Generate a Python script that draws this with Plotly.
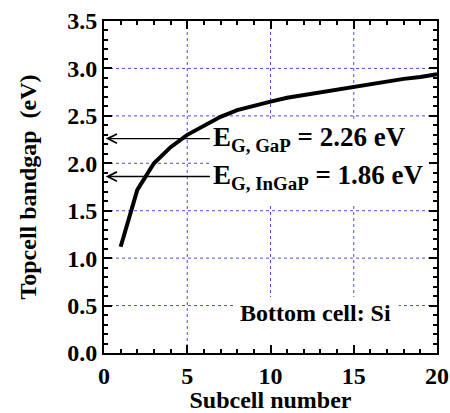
import plotly.graph_objects as go

subcells = list(range(1, 21))
bandgap = [1.12, 1.72, 2.00, 2.17, 2.30, 2.40, 2.49, 2.56, 2.61, 2.65,
           2.69, 2.72, 2.75, 2.78, 2.81, 2.84, 2.86, 2.89, 2.91, 2.94]
ref_labels = ["E<sub>G, GaP</sub> = 2.26 eV", "E<sub>G, InGaP</sub> = 1.86 eV"]
ref_values = [2.26, 1.86]
x_ticks = [0, 5, 10, 15, 20]
y_ticks = [0.0, 0.5, 1.0, 1.5, 2.0, 2.5, 3.0, 3.5]

FONT = "Liberation Serif"
GRID = "#4a4aee"
fig = go.Figure()
fig.add_trace(go.Scatter(x=subcells, y=bandgap, mode="lines",
                         line=dict(color="black", width=4), showlegend=False))

# dotted gridlines at the interior ticks
for t in x_ticks[1:-1]:
    fig.add_shape(type="line", xref="x", yref="y", x0=t, x1=t, y0=0, y1=3.5,
                  line=dict(color=GRID, width=1, dash="dot"), layer="below")
for t in y_ticks[1:-1]:
    fig.add_shape(type="line", xref="x", yref="y", x0=0, x1=20, y0=t, y1=t,
                  line=dict(color=GRID, width=1, dash="dot"), layer="below")

# white boxes hiding gridlines behind the texts
fig.add_shape(type="rect", xref="x", yref="y", x0=6.45, x1=19.9, y0=1.56, y1=2.47,
              fillcolor="white", line=dict(width=0), layer="below")
fig.add_shape(type="rect", xref="x", yref="y", x0=7.75, x1=17.7, y0=0.06, y1=0.59,
              fillcolor="white", line=dict(width=0), layer="below")

for lab, v in zip(ref_labels, ref_values):
    fig.add_annotation(x=0.1, y=v, ax=6.45, ay=v, axref="x", ayref="y",
                       xref="x", yref="y", text="", showarrow=True,
                       arrowhead=5, arrowsize=1.3, arrowwidth=1.4, arrowcolor="black")
    fig.add_annotation(x=6.45, y=v, xref="x", yref="y", text="<b>" + lab + "</b>",
                       showarrow=False, xanchor="left", yanchor="middle",
                       font=dict(family=FONT, size=27, color="black"))

fig.add_annotation(x=12.7, y=0.42, xref="x", yref="y", text="<b>Bottom cell: Si</b>",
                   showarrow=False, xanchor="center", yanchor="middle",
                   font=dict(family=FONT, size=24, color="black"))

tickfont = dict(family=FONT, size=24, color="black", weight="bold")
axis_common = dict(showline=True, linecolor="black", linewidth=2,
                   ticks="inside", ticklen=8, tickwidth=1.5, tickcolor="black",
                   zeroline=False, showgrid=False, automargin=False)

fig.update_xaxes(range=[0, 20], tickvals=x_ticks, ticktext=[str(t) for t in x_ticks],
                 tickfont=tickfont, ticklabelstandoff=0,
                 minor=dict(dtick=1, tick0=0, ticks="inside", ticklen=4, tickcolor="black", showgrid=False),
                 title=dict(text="<b>Subcell number</b>", font=dict(family=FONT, size=24, color="black"),
                            standoff=2),
                 **axis_common)
fig.update_yaxes(range=[0, 3.5], tickvals=y_ticks, ticktext=["%.1f" % t for t in y_ticks],
                 tickfont=tickfont,
                 minor=dict(dtick=0.1, tick0=0, ticks="inside", ticklen=4, tickcolor="black", showgrid=False),
                 title=dict(text="<b>Topcell bandgap  (eV)</b>", font=dict(family=FONT, size=24, color="black"),
                            standoff=24),
                 **axis_common)

fig.update_layout(
    xaxis2=dict(overlaying="x", side="top", matches="x", range=[0, 20], tickvals=x_ticks,
                showticklabels=False,
                minor=dict(dtick=1, tick0=0, ticks="inside", ticklen=4, tickcolor="black"),
                **axis_common),
    yaxis2=dict(overlaying="y", side="right", matches="y", range=[0, 3.5], tickvals=y_ticks,
                showticklabels=False,
                minor=dict(dtick=0.1, tick0=0, ticks="inside", ticklen=4, tickcolor="black"),
                **axis_common),
)
fig.add_trace(go.Scatter(x=[None], y=[None], xaxis="x2", yaxis="y2", showlegend=False,
                         hoverinfo="skip"))

fig.update_layout(width=450, height=413, margin=dict(l=104, r=13, t=21, b=60),
                  plot_bgcolor="white", paper_bgcolor="white")
fig.write_html("out.html")
